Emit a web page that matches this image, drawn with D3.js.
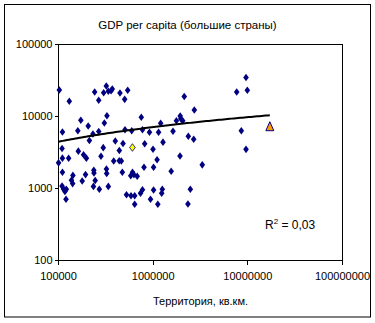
<!DOCTYPE html>
<html><head><meta charset="utf-8">
<script src="https://cdn.jsdelivr.net/npm/d3@7"></script>
<style>
html,body{margin:0;padding:0;background:#fff;}
svg{display:block;}
text{font-family:"Liberation Sans",Arial,sans-serif;fill:#000;}
</style></head>
<body><svg id="c" width="375" height="323"></svg>
<script>
// ---- data ----
const title = "GDP per capita (большие страны)";
const xTitle = "Территория, кв.км.";
const r2Label = "0,03";
const xTicks = [100000, 1000000, 10000000, 100000000];
const yTicks = [100, 1000, 10000, 100000];

// countries (area km², GDP per capita)
const areaKm2 = [
 102000,130000,241000,266000,320000,300000,336000,359000,370000,446000,500000,538000,2130000,2720000,7630000,9870000,9570000,
 110000,172000,160000,206000,212000,231000,266000,305000,325000,398000,480000,749000,504000,593000,771000,914000,1140000,1200000,1620000,1760000,1930000,1960000,2050000,2350000,2680000,8530000,814000,1270000,
 109000,162000,184000,197000,297000,281000,439000,110000,128000,100200,383000,438000,461000,996000,1100000,1920000,9570000,3300000,
 110000,142000,193000,236000,237000,321000,323000,472000,605000,627000,580000,678000,800000,1010000,1550000,137000,141000,178000,244000,234000,270000,336000,109000,113000,117000,121000,120000,523000,583000,638000,638000,735000,771000,937000,1010000,1250000,1230000,1120000,2330000,2470000
];
const gdpPerCapita = [
 23300,16300,21900,16800,26500,21400,22400,22800,24100,21200,17300,23100,19000,12300,21900,23100,34800,
 6090,8860,6350,7380,4640,5710,6190,8120,10260,4570,4220,9750,6560,6350,6560,6050,6050,8070,6250,8710,10160,9310,8740,5330,4820,6350,4190,4400,
 3590,3300,2940,2640,3690,2810,3370,2640,2630,2270,2410,2430,2410,3510,2510,2830,3500,2130,
 1680,1520,1560,1790,1640,1870,1620,1680,1680,1550,1500,1480,1970,1970,1740,1300,1170,1270,1290,1070,975,1070,1080,984,908,975,708,820,794,794,604,858,962,708,953,975,858,604,609,975
];
// highlighted countries
const yellowArea = [603700], yellowGdp = [3710];      // Украина
const triangleArea = [17075400], triangleGdp = [7330]; // Россия
// logarithmic trend line: y = a*ln(x) + b
const trendA = 1157, trendB = -8853;
const trendXRange = [100000, 17075400];

// ---- drawing ----
const svg = d3.select("#c");
const L = 58.5, R = 342.5, T = 44.5, B = 260.5;
const x = d3.scaleLog().domain([1e5, 1e8]).range([L, R]);
const y = d3.scaleLog().domain([100, 1e5]).range([B, T]);

svg.append("defs").append("clipPath").attr("id","cc")
  .append("rect").attr("x",5).attr("y",5).attr("width",365).attr("height",312);

svg.append("rect").attr("x",4.5).attr("y",4.5).attr("width",366).attr("height",312.5)
  .attr("fill","#fff").attr("stroke","#000").attr("stroke-width",1);

const g = svg.append("g").attr("clip-path","url(#cc)");

g.append("text").attr("x",187.5).attr("y",29).attr("text-anchor","middle")
  .attr("font-size","11.5px").text(title);

// axes
const fmt = d3.format("d");
const ax = g.append("g").attr("transform",`translate(0,${B})`)
  .call(d3.axisBottom(x).tickValues(xTicks).tickFormat(fmt).tickSize(4).tickSizeOuter(0).tickPadding(8).offset(0));
const ay = g.append("g").attr("transform",`translate(${L},0)`)
  .call(d3.axisLeft(y).tickValues(yTicks).tickFormat(fmt).tickSize(4).tickSizeOuter(0).tickPadding(2).offset(0));
[ax, ay].forEach(a => {
  a.select(".domain").remove();
  a.selectAll("line").attr("stroke","#000").attr("shape-rendering","crispEdges");
  a.selectAll("text").attr("font-size","11px").attr("font-family",'"Liberation Sans",Arial,sans-serif').attr("fill","#000");
});

g.append("rect").attr("x",L).attr("y",T).attr("width",R-L).attr("height",B-T)
  .attr("fill","none").attr("stroke","#000").attr("shape-rendering","crispEdges");

g.append("text").attr("x",200.5).attr("y",305).attr("text-anchor","middle")
  .attr("font-size","11px").text(xTitle);

// points
const diamond = "M0,-3.8L2.8,0L0,3.8L-2.8,0Z";
const pts = areaKm2.map((a,i)=>({a, v: gdpPerCapita[i]}));
g.append("g").selectAll("path").data(pts).join("path")
  .attr("d", diamond)
  .attr("transform", d => `translate(${x(d.a)},${y(d.v)})`)
  .attr("fill","#000080");

g.append("g").selectAll("path").data(yellowArea.map((a,i)=>({a, v: yellowGdp[i]}))).join("path")
  .attr("d", diamond)
  .attr("transform", d => `translate(${x(d.a)},${y(d.v)})`)
  .attr("fill","#FFFF00").attr("stroke","#000080").attr("stroke-width",0.8);

// trend line
const logs = d3.range(0, 101).map(i => Math.log(trendXRange[0]) + (Math.log(trendXRange[1]) - Math.log(trendXRange[0])) * i / 100);
const trendPts = logs.map(l => [Math.exp(l), trendA * l + trendB]);
g.append("path").datum(trendPts)
  .attr("d", d3.line().x(d => x(d[0])).y(d => y(d[1])))
  .attr("fill","none").attr("stroke","#000").attr("stroke-width",2);

g.append("g").selectAll("path").data(triangleArea.map((a,i)=>({a, v: triangleGdp[i]}))).join("path")
  .attr("d", "M0,-4.5L4,4.5L-4,4.5Z")
  .attr("transform", d => `translate(${x(d.a)},${y(d.v)})`)
  .attr("fill","#FF9900").attr("stroke","#000080").attr("stroke-width",1);

// R²
const rt = g.append("text").attr("x",265).attr("y",229).attr("font-size","12px");
rt.append("tspan").text("R");
rt.append("tspan").attr("font-size","8px").attr("dy",-5).text("2");
rt.append("tspan").attr("dy",5).text(" = " + r2Label);
</script></body></html>
